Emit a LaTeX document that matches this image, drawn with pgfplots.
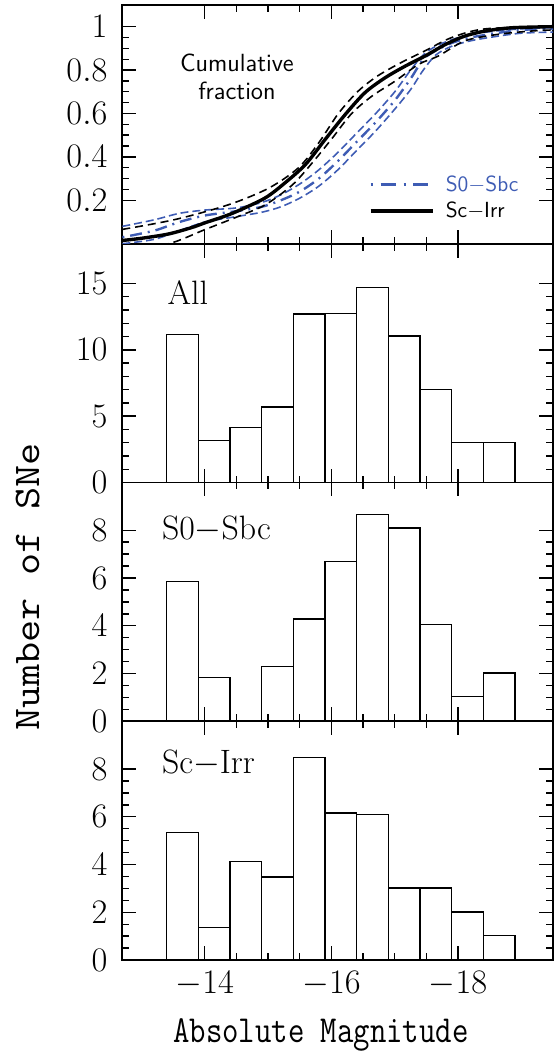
\documentclass[border=0pt]{standalone}
\usepackage{pgfplots}
\usepackage{pgfplotstable}
\usepackage{graphicx}
\pgfplotsset{compat=1.18}
\definecolor{sblue}{RGB}{62,92,180}

\pgfplotstableread{
x y
-13.65 11.15
-14.15 3.15
-14.65 4.13
-15.15 5.70
-15.65 12.70
-16.15 12.75
-16.65 14.68
-17.15 11.05
-17.65 7.00
-18.15 3.00
-18.65 3.00
}\allT

\pgfplotstableread{
x y
-13.65 5.84
-14.15 1.84
-14.65 0.00
-15.15 2.29
-15.65 4.28
-16.15 6.69
-16.65 8.67
-17.15 8.10
-17.65 4.06
-18.15 1.04
-18.65 2.02
}\sbT

\pgfplotstableread{
x y
-13.65 5.35
-14.15 1.37
-14.65 4.12
-15.15 3.48
-15.65 8.47
-16.15 6.16
-16.65 6.10
-17.15 3.02
-17.65 3.02
-18.15 2.01
-18.65 1.03
}\scT

\begin{document}
\begin{tikzpicture}
\path (-61.5pt,-46.5pt) rectangle (218.5pt,482.5pt);
\pgfplotsset{
  every axis/.append style={
    scale only axis, width=216.5pt, height=120pt,
    xmin=-19.5, xmax=-12.7, x dir=reverse,
    xtick={-18,-16,-14}, minor x tick num=3,
    axis line style={line width=1pt},
    major tick length=7pt, minor tick length=3.5pt,
    tick style={black, line width=0.7pt},
    tick label style={font=\fontsize{16}{16}\selectfont},
    yticklabel style={xshift=-4pt},
    xticklabel style={yshift=-2pt},
    anchor=south west,
  },
}
% Sc-Irr
\begin{axis}[at={(0pt,0pt)}, ymin=0, ymax=10, ytick={0,2,4,6,8}, minor y tick num=3]
\addplot[ybar, bar width=0.5, bar shift=0pt, draw=black, fill=none, line width=0.65pt] table {\scT};
\node[anchor=base west, font=\fontsize{17}{17}\selectfont] at (rel axis cs:0.076,0.783) {Sc$-$Irr};
\end{axis}
% S0-Sbc
\begin{axis}[at={(0pt,120pt)}, ymin=0, ymax=10, ytick={0,2,4,6,8}, minor y tick num=3, xticklabels={}]
\addplot[ybar, bar width=0.5, bar shift=0pt, draw=black, fill=none, line width=0.65pt] table {\sbT};
\node[anchor=base west, font=\fontsize{17}{17}\selectfont] at (rel axis cs:0.076,0.7625) {S0$-$Sbc};
\end{axis}
% All
\begin{axis}[at={(0pt,240pt)}, ymin=0, ymax=18, ytick={0,5,10,15}, minor y tick num=4, xticklabels={}]
\addplot[ybar, bar width=0.5, bar shift=0pt, draw=black, fill=none, line width=0.65pt] table {\allT};
\node[anchor=base west, font=\fontsize{17}{17}\selectfont] at (rel axis cs:0.089,0.747) {All};
\end{axis}
% Cumulative
\begin{axis}[at={(0pt,360pt)}, ymin=0, ymax=1.1, ytick={0.2,0.4,0.6,0.8,1}, minor y tick num=3, xticklabels={}]
% blue bands
\addplot[sblue, line width=0.8pt, dash pattern=on 4pt off 2pt, smooth] coordinates {
(-12.70,0.08) (-13.20,0.11) (-13.60,0.14) (-14.00,0.155) (-14.50,0.165) (-14.90,0.19) (-15.20,0.225) (-15.50,0.275) (-15.80,0.34) (-16.10,0.42) (-16.40,0.51) (-16.70,0.60) (-17.00,0.70) (-17.25,0.80) (-17.45,0.87) (-17.65,0.91) (-17.90,0.94) (-18.20,0.965) (-18.60,0.98) (-19.00,0.99) (-19.50,0.995)};
\addplot[sblue, line width=0.8pt, dash pattern=on 4pt off 2pt, smooth] coordinates {
(-12.70,0.00) (-13.20,0.02) (-13.60,0.06) (-14.00,0.10) (-14.50,0.125) (-14.90,0.145) (-15.20,0.17) (-15.50,0.21) (-15.80,0.265) (-16.10,0.34) (-16.40,0.43) (-16.70,0.52) (-17.00,0.62) (-17.25,0.71) (-17.45,0.80) (-17.65,0.87) (-17.90,0.91) (-18.20,0.935) (-18.60,0.955) (-19.00,0.97) (-19.50,0.975)};
\addplot[sblue, line width=1.2pt, dash pattern=on 1pt off 3pt on 6pt off 3pt, smooth] coordinates {
(-12.70,0.03) (-13.20,0.06) (-13.60,0.10) (-14.00,0.13) (-14.50,0.15) (-14.90,0.17) (-15.20,0.20) (-15.50,0.24) (-15.80,0.30) (-16.10,0.38) (-16.40,0.47) (-16.70,0.56) (-17.00,0.66) (-17.25,0.76) (-17.45,0.85) (-17.65,0.89) (-17.90,0.925) (-18.20,0.95) (-18.60,0.97) (-19.00,0.985) (-19.50,0.99)};
% black bands
\addplot[black, line width=0.8pt, dash pattern=on 4pt off 2.5pt, smooth] coordinates {
(-12.70,0.066) (-13.54,0.112) (-14.38,0.18) (-15.01,0.256) (-15.48,0.35) (-15.80,0.465) (-16.11,0.60) (-16.43,0.705) (-16.74,0.775) (-17.11,0.836) (-17.48,0.889) (-17.90,0.95) (-18.43,0.99) (-19.50,1.0)};
\addplot[black, line width=0.8pt, dash pattern=on 4pt off 2.5pt, smooth] coordinates {
(-12.70,-0.03) (-13.43,0.0) (-14.01,0.066) (-14.54,0.127) (-14.96,0.18) (-15.38,0.27) (-15.69,0.37) (-16.01,0.485) (-16.32,0.60) (-16.64,0.68) (-17.01,0.75) (-17.38,0.827) (-17.69,0.865) (-18.11,0.935) (-18.64,0.965) (-19.16,0.98) (-19.50,0.985)};
\addplot[black, line width=1.7pt, smooth] coordinates {
(-12.70,0.015) (-13.00,0.025) (-13.43,0.045) (-13.80,0.075) (-14.01,0.097) (-14.30,0.125) (-14.54,0.153) (-14.96,0.212) (-15.27,0.281) (-15.59,0.365) (-15.90,0.48) (-16.22,0.596) (-16.53,0.696) (-16.85,0.765) (-17.17,0.819) (-17.48,0.865) (-17.80,0.918) (-18.11,0.957) (-18.43,0.98) (-18.85,0.995) (-19.50,1.0)};
\node[align=center, font=\sffamily\fontsize{12.5}{14}\selectfont] at (rel axis cs:0.266,0.70) {Cumulative\\fraction};
% legend
\draw[sblue, line width=1.3pt, dash pattern=on 1pt off 4pt on 7.5pt off 4pt] (axis cs:-16.62,0.272) -- (axis cs:-17.61,0.272);
\node[anchor=west, inner sep=0pt, text=sblue, font=\sffamily\fontsize{11}{12}\selectfont] at (axis cs:-17.80,0.272) {S0$-$Sbc};
\draw[black, line width=1.7pt] (axis cs:-16.62,0.151) -- (axis cs:-17.61,0.151);
\node[anchor=west, inner sep=0pt, font=\sffamily\fontsize{11}{12}\selectfont] at (axis cs:-17.80,0.151) {Sc$-$Irr};
\end{axis}
% axis labels
\node[anchor=base, font=\ttfamily\fontsize{16}{16}\selectfont] at (99.75pt,-41.5pt) {\scalebox{1}[1.2]{Absolute Magnitude}};
\node[anchor=base, rotate=90, font=\ttfamily\fontsize{18}{18}\selectfont] at (-41.5pt,187.5pt) {\scalebox{1.2}[1.05]{Number of SNe}};
\end{tikzpicture}
\end{document}
